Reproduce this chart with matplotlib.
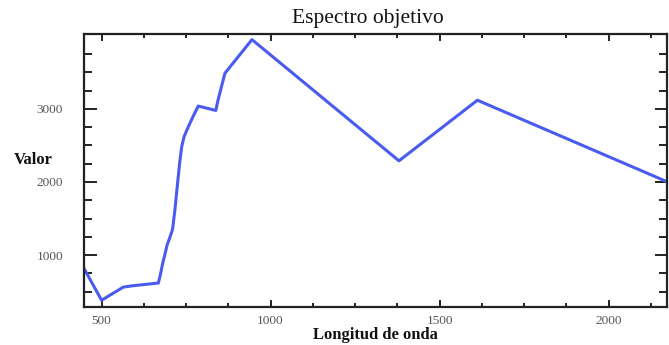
import matplotlib
matplotlib.use("Agg")
import matplotlib.pyplot as plt
from matplotlib.ticker import FixedLocator

# Data
wavelength = [450, 500, 564, 594, 668, 673, 681, 687, 694, 702, 710, 717, 722,
              727, 731, 737, 744, 757, 771, 786, 838, 845, 855, 865, 945,
              1380, 1612, 2175]
value = [800, 380, 560, 580, 616, 710, 890, 1000, 1140, 1240, 1350, 1620, 1850,
         2080, 2260, 2480, 2620, 2760, 2900, 3040, 2980, 3130, 3310, 3490, 3950,
         2290, 3120, 2000]

x_major = [500, 1000, 1500, 2000]
x_minor = [625, 750, 875, 1125, 1250, 1375, 1625, 1750, 1875, 2125]
y_major = [1000, 2000, 3000]
y_minor = [500, 750, 1250, 1500, 1750, 2250, 2500, 2750, 3250, 3500, 3750]

title = "Espectro objetivo"
xlabel = "Longitud de onda"
ylabel = "Valor"

plt.rcParams['font.family'] = ['Liberation Serif', 'DejaVu Serif']

fig = plt.figure(figsize=(6.69, 3.45), dpi=100)
ax = fig.add_axes([84/669, 1-307/345, (667-84)/669, (307-34)/345])

ax.plot(wavelength, value, color='#4a5cf0', lw=2.2, solid_joinstyle='round')

ax.set_xlim(448, 2173)
ax.set_ylim(288, 4027)

ax.xaxis.set_major_locator(FixedLocator(x_major))
ax.xaxis.set_minor_locator(FixedLocator(x_minor))
ax.yaxis.set_major_locator(FixedLocator(y_major))
ax.yaxis.set_minor_locator(FixedLocator(y_minor))

for s in ax.spines.values():
    s.set_linewidth(1.6)
    s.set_color('#222222')

ax.tick_params(axis='both', which='both', direction='in', top=True, right=True,
               color='#222222', width=1.4, labelcolor='#555555', labelsize=9.5)
ax.tick_params(axis='x', which='major', length=5, pad=6)
ax.tick_params(axis='x', which='minor', length=3)
ax.tick_params(axis='y', which='major', length=9, pad=15)
ax.tick_params(axis='y', which='minor', length=5.5)

ax.text(0.487, 1.058, title, transform=ax.transAxes, ha='center', va='center',
        fontsize=15.5, color='#111111')
ax.set_xlabel(xlabel, fontsize=12, fontweight='bold', color='#111111')
ax.xaxis.set_label_coords(0.5, -0.075)
ax.set_ylabel(ylabel, fontsize=12, fontweight='bold', color='#111111', rotation=0,
              ha='center', va='center')
ax.yaxis.set_label_coords(-0.087, 0.54)

fig.savefig("out.png", dpi=100)
